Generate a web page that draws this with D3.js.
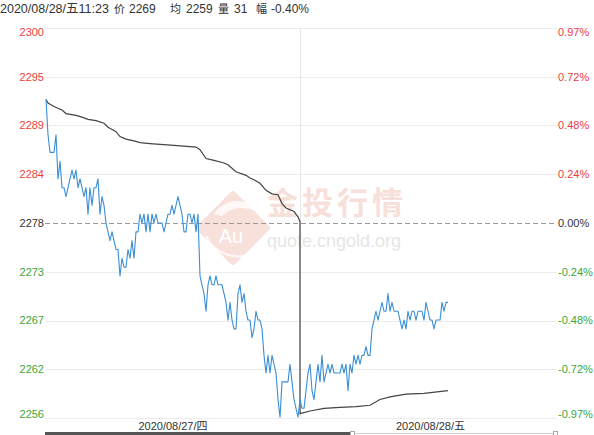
<!DOCTYPE html>
<html>
<head>
<meta charset="utf-8">
<script src="https://cdn.jsdelivr.net/npm/d3@7/dist/d3.min.js"></script>
<style>
  html, body { margin: 0; padding: 0; background: #fff; }
  svg { display: block; }
  text { font-family: "Liberation Sans", Arial, "Noto Sans CJK SC", sans-serif; }
</style>
</head>
<body>
<svg id="chart" width="594" height="435"></svg>
<script>
// ---------------- data ----------------
const preClose = 2278;
const maxPct = 0.97;
const priceLabels = ["2300", "2295", "2289", "2284", "2278", "2273", "2267", "2262", "2256"];
const pctLabels = ["0.97%", "0.72%", "0.48%", "0.24%", "0.00%", "-0.24%", "-0.48%", "-0.72%", "-0.97%"];
const dateLabels = ["2020/08/27/四", "2020/08/28/五"];
const sessionBounds = [0, 127, 253.5];
const totalSlots = 253.5;
const headerParts = ["2020/08/28/五11:23", "价", "2269", "均", "2259", "量", "31", "幅", "-0.40%"];

// minute price (one value per slot)
const prices = [
  2292,2288,2286,2286,2286,2288,2283,2285,2282,2282,
  2281,2282,2283,2284,2283,2284,2282,2283,2282,2281,
  2282,2279,2282,2280,2282,2282,2283,2279,2281,2280,
  2278,2277,2276,2277,2276,2275,2275,2272,2274,2273,
  2273,2275,2274,2276,2274,2277,2277,2279,2278,2279,
  2277,2279,2277,2279,2278,2279,2278,2278,2278,2277,
  2278,2279,2279,2280,2279,2280,2281,2280,2279,2277,
  2277,2279,2279,2278,2279,2277,2279,2272,2271,2270,
  2268,2271,2272,2271,2271,2272,2271,2271,2271,2270,
  2269,2267,2269,2267,2266,2266,2270,2271,2269,2270,
  2268,2267,2267,2265,2266,2268,2267,2267,2266,2263,
  2261,2263,2261,2263,2262,2261,2258,2256,2260,2260,
  2260,2260,2262,2260,2258,2257,2256,2258,2257,2257,
  2259,2261,2262,2259,2258,2260,2262,2260,2263,2260,
  2261,2262,2261,2262,2261,2261,2261,2261,2262,2261,
  2262,2259,2262,2261,2263,2262,2263,2262,2263,2263,
  2264,2263,2263,2266,2267,2268,2267,2268,2269,2268,
  2268,2270,2268,2269,2268,2268,2268,2267,2266,2267,
  2266,2268,2267,2268,2268,2267,2268,2268,2268,2267,
  2269,2268,2267,2267,2266,2267,2267,2267,2269,2268,
  2269,2269
];

// average price line (slot index, value)
const avgIdx = [0,1,4,8,10,15,18,21,25,29,31,33,35,37,40,44,47,52,64,75,77,80,84,89,91,95,100,102,104,107,110,113,116,118,120,124,126,127,127,132,139,147,155,162,167,172,180,189,201];
const avgVal = [2292.0,2291.6,2291.2,2290.8,2290.4,2290.2,2290.0,2289.75,2289.6,2289.3,2288.85,2288.6,2288.35,2287.8,2287.5,2287.3,2287.1,2287.0,2286.8,2286.6,2286.3,2285.3,2285.1,2284.8,2284.6,2283.8,2283.4,2283.1,2282.9,2282.5,2281.7,2281.3,2281.2,2280.2,2279.7,2279.3,2278.7,2278.15,2256.4,2256.7,2257.0,2257.1,2257.2,2257.35,2258.0,2258.3,2258.6,2258.7,2259.0];

// ---------------- layout ----------------
const svg = d3.select("#chart");
const plot = { left: 46, right: 553, top: 28, bottom: 418 };
const gridLeft = 45, gridRight = 557;

const yMin = preClose * (1 - maxPct / 100);
const yMax = preClose * (1 + maxPct / 100);
const y = d3.scaleLinear().domain([yMin, yMax]).range([plot.bottom, plot.top]);
const x = d3.scaleLinear().domain([0, totalSlots]).range([plot.left, plot.right]);

const red = "#ec3d3d", green = "#3aa63a", neutral = "#333";
const colorFor = i => i < 4 ? red : (i === 4 ? neutral : green);
const levels = priceLabels.map((_, i) => yMax - i * (yMax - yMin) / (priceLabels.length - 1));

svg.append("rect").attr("width", 594).attr("height", 435).attr("fill", "#fff");

// watermark
const wm = svg.append("g");
wm.append("rect")
  .attr("x", -27).attr("y", -27).attr("width", 54).attr("height", 54)
  .attr("rx", 3)
  .attr("transform", "translate(233,228) rotate(45)")
  .attr("fill", "#f8e1db");
wm.append("path")
  .attr("d", "M214,214 C226,196 250,198 258,212 C246,206 232,206 222,216 Z")
  .attr("fill", "#fff").attr("opacity", 0.8);
wm.append("path")
  .attr("d", "M206,236 C214,254 238,262 254,252")
  .attr("fill", "none").attr("stroke", "#fff").attr("stroke-width", 2).attr("opacity", 0.8);
wm.append("text").attr("x", 231).attr("y", 243).attr("text-anchor", "middle")
  .attr("font-size", 20).attr("fill", "#fff").text("Au");
wm.append("text").attr("x", 267).attr("y", 214)
  .style("font-family", '"Noto Sans CJK SC", sans-serif')
  .attr("font-size", 31).attr("font-weight", "bold").attr("letter-spacing", 4)
  .attr("fill", "#f8e0da").text("金投行情");
wm.append("text").attr("x", 267).attr("y", 247)
  .attr("font-size", 18).attr("fill", "#e6e6e6").text("quote.cngold.org");

// gridlines
svg.append("g").selectAll("line.grid")
  .data(levels.filter((_, i) => i !== 4))
  .join("line")
  .attr("x1", gridLeft).attr("x2", gridRight)
  .attr("y1", d => Math.round(y(d)) + 0.5).attr("y2", d => Math.round(y(d)) + 0.5)
  .attr("stroke", "#ececec").attr("stroke-width", 1);

// session separator
svg.append("line")
  .attr("x1", Math.round(x(sessionBounds[1])) + 0.5).attr("x2", Math.round(x(sessionBounds[1])) + 0.5)
  .attr("y1", plot.top).attr("y2", plot.bottom)
  .attr("stroke", "#e6e6e6");

// pre-close dashed line
svg.append("line")
  .attr("x1", gridLeft).attr("x2", gridRight)
  .attr("y1", Math.round(y(preClose)) + 0.5).attr("y2", Math.round(y(preClose)) + 0.5)
  .attr("stroke", "#999").attr("stroke-dasharray", "5,3");

// left labels
svg.append("g").selectAll("text")
  .data(priceLabels)
  .join("text")
  .attr("x", 44)
  .attr("y", (d, i) => y(levels[i]) + (i === 0 ? 4 : i === priceLabels.length - 1 ? -4 : 0))
  .attr("dy", "0.35em")
  .attr("text-anchor", "end")
  .attr("font-size", 11)
  .attr("fill", (d, i) => colorFor(i))
  .text(d => d);

// right labels
svg.append("g").selectAll("text")
  .data(pctLabels)
  .join("text")
  .attr("x", 558)
  .attr("y", (d, i) => y(levels[i]) + (i === 0 ? 4 : i === pctLabels.length - 1 ? -4 : 0))
  .attr("dy", "0.35em")
  .attr("text-anchor", "start")
  .attr("font-size", 11)
  .attr("fill", (d, i) => colorFor(i))
  .text(d => d);

// average line
const avgData = avgIdx.map((d, i) => [d, avgVal[i]]);
svg.append("path")
  .datum(avgData)
  .attr("fill", "none")
  .attr("stroke", "#444")
  .attr("stroke-width", 1.2)
  .attr("d", d3.line().x(d => x(d[0])).y(d => y(d[1])));

// price line
svg.append("path")
  .datum(prices)
  .attr("fill", "none")
  .attr("stroke", "#3a8fd6")
  .attr("stroke-width", 1.1)
  .attr("stroke-linejoin", "round")
  .attr("d", d3.line().x((d, i) => x(i)).y(d => y(d)));

// date labels
svg.append("g").selectAll("text")
  .data(dateLabels)
  .join("text")
  .attr("x", (d, i) => (x(sessionBounds[i]) + x(sessionBounds[i + 1])) / 2 + (i === 1 ? 4 : 0))
  .attr("y", 430)
  .attr("text-anchor", "middle")
  .attr("font-size", 11)
  .attr("fill", "#333")
  .text(d => d);

// navigator bar
svg.append("line").attr("x1", 352).attr("x2", 555).attr("y1", 433.5).attr("y2", 433.5)
  .attr("stroke", "#cfcfcf").attr("stroke-width", 1);
svg.append("rect").attr("x", 45).attr("y", 432).attr("width", 307).attr("height", 3).attr("fill", "#555");
svg.append("rect").attr("x", 350.5).attr("y", 431.5).attr("width", 4).attr("height", 5)
  .attr("fill", "#fff").attr("stroke", "#aaa");
svg.append("rect").attr("x", 553.5).attr("y", 431.5).attr("width", 4).attr("height", 5)
  .attr("fill", "#fff").attr("stroke", "#aaa");

// header
const hx = [0, 114, 129, 170, 186, 218, 234, 256, 271];
const hs = [12.5, 11, 12, 11, 12, 11, 12, 11, 12];
svg.append("text")
  .attr("y", 13)
  .attr("fill", "#333")
  .selectAll("tspan")
  .data(headerParts)
  .join("tspan")
  .attr("x", (d, i) => hx[i])
  .attr("font-size", (d, i) => hs[i])
  .text(d => d);
</script>
</body>
</html>
